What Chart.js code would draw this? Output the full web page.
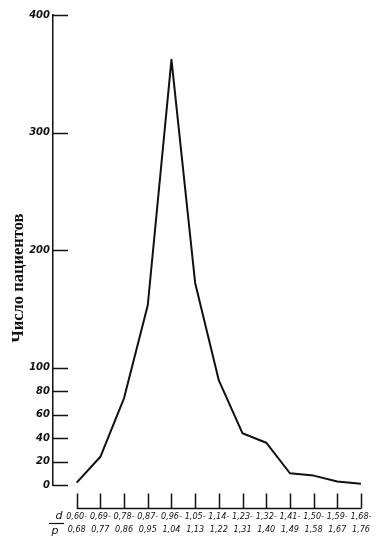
<!DOCTYPE html>
<html>
<head>
<meta charset="utf-8">
<script src="https://cdn.jsdelivr.net/npm/chart.js@4.4.1/dist/chart.umd.min.js"></script>
<style>
  html, body { margin: 0; padding: 0; background: #fff; }
  #wrap { width: 390px; height: 545px; }
</style>
</head>
<body>
<div id="wrap"><canvas id="chart"></canvas></div>
<script>
// data
const rangeFrom = ["0,60-", "0,69-", "0,78-", "0,87-", "0,96-", "1,05-", "1,14-", "1,23-", "1,32-", "1,41-", "1,50-", "1,59-", "1,68-"];
const rangeTo = ["0,68", "0,77", "0,86", "0,95", "1,04", "1,13", "1,22", "1,31", "1,40", "1,49", "1,58", "1,67", "1,76"];
const patients = [2, 24, 74, 153, 362, 172, 89, 44, 36, 10, 8, 3, 1];
const yTickValues = [0, 20, 40, 60, 80, 100, 200, 300, 400];
const yTitle = "Число пациентов";

const ink = "#111";

// hand-drawn look: inward y ticks, detached x axis, d/p caption, y title
const drawingAxes = {
  id: "drawingAxes",
  afterDraw(chart) {
    const { ctx, chartArea, scales } = chart;
    const xs = scales.x;
    const ys = scales.y;
    ctx.save();
    ctx.strokeStyle = ink;
    ctx.fillStyle = ink;
    ctx.lineWidth = 1.5;

    yTickValues.forEach((v) => {
      const py = Math.round(ys.getPixelForValue(v)) + 0.5;
      ctx.beginPath();
      ctx.moveTo(chartArea.left, py);
      ctx.lineTo(chartArea.left + 15, py);
      ctx.stroke();
    });

    const baseY = chartArea.bottom + 23.5;
    const first = xs.getPixelForValue(0);
    const last = xs.getPixelForValue(rangeFrom.length - 1);
    ctx.beginPath();
    ctx.moveTo(first, baseY);
    ctx.lineTo(last, baseY);
    rangeFrom.forEach((_, i) => {
      const px = Math.round(xs.getPixelForValue(i)) + 0.5;
      ctx.moveTo(px, baseY);
      ctx.lineTo(px, baseY - 15);
    });
    ctx.stroke();

    ctx.font = "italic 11px 'DejaVu Sans'";
    ctx.textAlign = "center";
    ctx.textBaseline = "middle";
    ctx.fillText("d", 59, 516);
    ctx.fillText("p", 55, 531);
    ctx.lineWidth = 1.2;
    ctx.beginPath();
    ctx.moveTo(49, 523.5);
    ctx.lineTo(64, 523.5);
    ctx.stroke();

    ctx.translate(19, 278);
    ctx.rotate(-Math.PI / 2);
    ctx.font = "bold 16.5px 'Liberation Serif'";
    ctx.fillText(yTitle, 0, 0);
    ctx.restore();
  },
};

new Chart(document.getElementById("chart"), {
  type: "line",
  data: {
    datasets: [
      {
        label: yTitle,
        data: patients.map((v, i) => ({ x: i, y: v })),
        borderColor: ink,
        borderWidth: 2,
        borderJoinStyle: "round",
        pointRadius: 0,
        tension: 0,
      },
    ],
  },
  options: {
    responsive: true,
    maintainAspectRatio: false,
    animation: false,
    layout: {
      padding: { top: 15, right: 29, left: 0, bottom: 0 },
    },
    scales: {
      x: {
        type: "linear",
        min: -1,
        max: rangeFrom.length - 1,
        afterBuildTicks: (scale) => {
          scale.ticks = rangeFrom.map((_, i) => ({ value: i }));
        },
        afterFit: (scale) => {
          scale.height = 60;
          scale.paddingLeft = 0;
          scale.paddingRight = 0;
        },
        grid: { display: false, drawTicks: false },
        border: { display: false },
        ticks: {
          autoSkip: false,
          maxRotation: 0,
          minRotation: 0,
          padding: 25,
          color: ink,
          font: {
            family: "'DejaVu Sans Condensed', 'DejaVu Sans'",
            size: 9,
            style: "italic",
            lineHeight: "13px",
          },
          callback: (value) => [rangeFrom[value], rangeTo[value]],
        },
      },
      y: {
        min: 0,
        max: 400,
        afterBuildTicks: (scale) => {
          scale.ticks = yTickValues.map((v) => ({ value: v }));
        },
        afterFit: (scale) => {
          scale.width = 53;
        },
        grid: { display: false, drawTicks: false },
        border: { display: true, color: ink, width: 1.5 },
        ticks: {
          padding: 3,
          color: ink,
          font: {
            family: "'DejaVu Sans'",
            size: 10,
            style: "italic",
            weight: "bold",
          },
        },
      },
    },
    plugins: {
      legend: { display: false },
      tooltip: { enabled: false },
    },
  },
  plugins: [drawingAxes],
});
</script>
</body>
</html>
